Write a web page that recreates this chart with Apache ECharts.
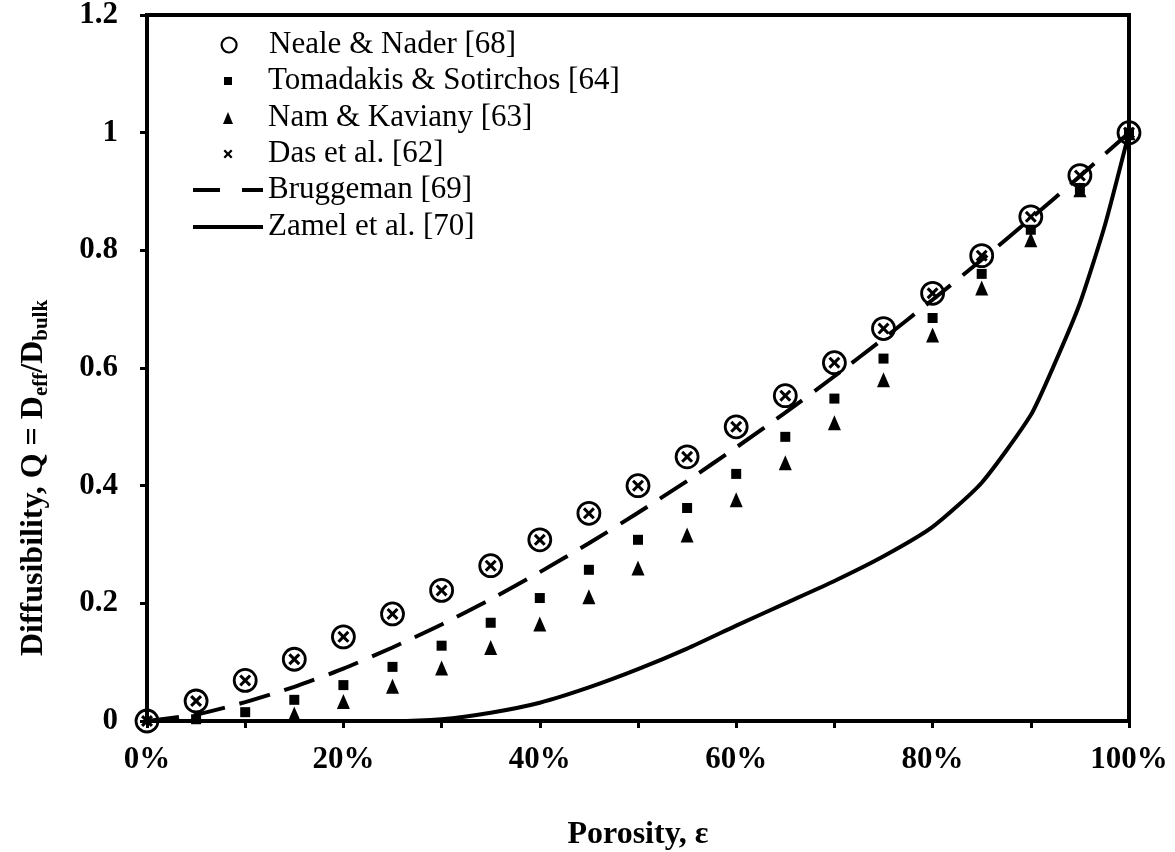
<!DOCTYPE html>
<html>
<head>
<meta charset="utf-8">
<script src="https://cdn.jsdelivr.net/npm/echarts@6/dist/echarts.min.js"></script>
<style>
  html, body { margin: 0; padding: 0; background: #fff; }
  #chart { width: 1175px; height: 852px; }
</style>
</head>
<body>
<div id="chart"></div>
<script>
// porosity steps (fraction) for the markers
const porosity = [0, 0.05, 0.1, 0.15, 0.2, 0.25, 0.3, 0.35, 0.4, 0.45, 0.5,
  0.55, 0.6, 0.65, 0.7, 0.75, 0.8, 0.85, 0.9, 0.95, 1];

// values
const nealeNader = [0, 0.034, 0.069, 0.105, 0.143, 0.182, 0.222, 0.264, 0.308, 0.353, 0.4,
  0.449, 0.5, 0.553, 0.609, 0.667, 0.727, 0.791, 0.857, 0.927, 1];
const tomadakis = [null, 0.003, 0.015, 0.036, 0.061, 0.092, 0.128, 0.167, 0.209, 0.257, 0.308,
  0.362, 0.42, 0.483, 0.548, 0.616, 0.685, 0.76, 0.835, 0.906, 1];
const namKaviany = [null, null, null, 0.012, 0.033, 0.059, 0.09, 0.125, 0.165, 0.211, 0.26,
  0.316, 0.376, 0.439, 0.507, 0.58, 0.656, 0.736, 0.818, 0.903, 1];
const dasEtAl = [0, 0.034, 0.069, 0.105, 0.143, 0.182, 0.222, 0.264, 0.308, 0.353, 0.4,
  0.449, 0.5, 0.553, 0.609, 0.667, 0.727, 0.791, 0.857, 0.927, 1];

const bruggemanX = porosity;
const bruggeman = [0, 0.011, 0.032, 0.058, 0.089, 0.125, 0.164, 0.207, 0.253, 0.302, 0.354,
  0.408, 0.465, 0.524, 0.586, 0.65, 0.716, 0.784, 0.854, 0.926, 1];

const zamelX = [0, 0.05, 0.1, 0.15, 0.2, 0.25, 0.3, 0.35, 0.4, 0.45, 0.5, 0.55, 0.6,
  0.65, 0.7, 0.75, 0.8, 0.85, 0.9, 0.925, 0.95, 0.975, 1];
const zamel = [0, 0, 0, 0, 0, 0, 0.003, 0.014, 0.031, 0.057, 0.088, 0.123, 0.162,
  0.2, 0.238, 0.28, 0.33, 0.405, 0.52, 0.61, 0.71, 0.84, 1];

const names = ['Neale & Nader [68]', 'Tomadakis & Sotirchos [64]', 'Nam & Kaviany [63]',
  'Das et al. [62]', 'Bruggeman [69]', 'Zamel et al. [70]'];
const yTicks = [0, 0.2, 0.4, 0.6, 0.8, 1, 1.2];

const FONT = 'Liberation Serif, Times New Roman, serif';
const xPath = 'path://M0,1.8L1.8,0L5,3.2L8.2,0L10,1.8L6.8,5L10,8.2L8.2,10L5,6.8L1.8,10L0,8.2L3.2,5Z';
const triPath = 'path://M5,0L10,12L0,12Z';
const sqPath = 'path://M0,0L10,0L10,10L0,10Z';

const zip = (xs, ys) => xs.map((x, i) => [x, ys[i]]);

const chart = echarts.init(document.getElementById('chart'));

// one legend per row so each marker keeps its own size;
// w = drawn icon width, centred on x = 228 with the text starting at 268
const legendRow = (item, w, h, center) => ({
  data: [item],
  left: 228 - w / 2, top: center - 16, padding: 0,
  itemWidth: 70, itemHeight: h,
  symbolKeepAspect: true,
  textStyle: { fontFamily: FONT, fontSize: 31, lineHeight: 32, color: '#000' },
  selectedMode: false
});

const option = {
  animation: false,
  backgroundColor: '#fff',
  grid: {
    left: 147, right: 46, top: 15, bottom: 131,
    outerBoundsMode: 'none', containLabel: false,
    show: true, borderColor: '#000', borderWidth: 4, backgroundColor: 'transparent'
  },
  legend: [
    legendRow({ name: names[0], icon: 'circle',
      itemStyle: { color: '#fff', borderColor: '#000', borderWidth: 2.2 } }, 15, 15, 45),
    legendRow({ name: names[1], icon: sqPath }, 8, 8, 81),
    legendRow({ name: names[2], icon: triPath }, 10, 12, 118),
    legendRow({ name: names[3], icon: xPath }, 9, 9, 154),
    legendRow({ name: names[4], icon: 'path://M0,0L27,0L27,4L0,4ZM49,0L70,0L70,4L49,4Z' }, 70, 4, 190),
    legendRow({ name: names[5], icon: 'path://M0,0L70,0L70,4L0,4Z' }, 70, 4, 227)
  ],
  xAxis: {
    type: 'value', min: 0, max: 1, interval: 0.1,
    name: 'Porosity, ε', nameLocation: 'middle', nameGap: 98,
    nameTextStyle: { fontFamily: FONT, fontSize: 32, fontWeight: 'bold', color: '#000' },
    axisLine: { lineStyle: { color: '#000', width: 4 } },
    axisTick: { show: true, length: 7, lineStyle: { color: '#000', width: 3 } },
    axisLabel: {
      margin: 23, fontFamily: FONT, fontSize: 31, fontWeight: 'bold', color: '#000',
      formatter: v => (Math.round(v * 100) % 20 === 0 ? Math.round(v * 100) + '%' : '')
    },
    splitLine: { show: false }
  },
  yAxis: {
    type: 'value', min: yTicks[0], max: yTicks[yTicks.length - 1], interval: 0.2,
    name: 'Diffusibility, Q = D{s|eff}/D{s|bulk}', nameLocation: 'middle', nameGap: 95,
    nameTextStyle: {
      fontFamily: FONT, fontSize: 32, fontWeight: 'bold', color: '#000',
      padding: [0, 220, 0, 0],
      rich: { s: { fontFamily: FONT, fontSize: 21, fontWeight: 'bold', color: '#000', padding: [16, 0, 0, 0] } }
    },
    axisLine: { show: true, lineStyle: { color: '#000', width: 4 } },
    axisTick: { show: true, length: 7, lineStyle: { color: '#000', width: 3 } },
    axisLabel: { margin: 29, fontFamily: FONT, fontSize: 31, fontWeight: 'bold', color: '#000' },
    splitLine: { show: false }
  },
  series: [
    {
      name: names[4], type: 'line', data: zip(bruggemanX, bruggeman),
      symbol: 'none', smooth: 0.2, z: 2,
      itemStyle: { color: '#000' },
      lineStyle: { color: '#000', width: 4, type: [32, 15] }
    },
    {
      name: names[5], type: 'line', data: zip(zamelX, zamel),
      symbol: 'none', smooth: 0.2, z: 2,
      itemStyle: { color: '#000' },
      lineStyle: { color: '#000', width: 4 }
    },
    {
      name: names[0], type: 'scatter', data: zip(porosity, nealeNader),
      symbol: 'circle', symbolSize: 22, z: 3,
      itemStyle: { color: 'rgba(0,0,0,0)', borderColor: '#000', borderWidth: 2.8, opacity: 1 }
    },
    {
      name: names[1], type: 'scatter', data: zip(porosity, tomadakis),
      symbol: 'rect', symbolSize: 10, z: 3,
      itemStyle: { color: '#000', opacity: 1 }
    },
    {
      name: names[2], type: 'scatter', data: zip(porosity, namKaviany),
      symbol: 'triangle', symbolSize: [13, 15], z: 3,
      itemStyle: { color: '#000', opacity: 1 }
    },
    {
      name: names[3], type: 'scatter', data: zip(porosity, dasEtAl),
      symbol: xPath, symbolSize: 12, z: 4,
      itemStyle: { color: '#000', opacity: 1 }
    }
  ]
};

chart.setOption(option);
</script>
</body>
</html>
